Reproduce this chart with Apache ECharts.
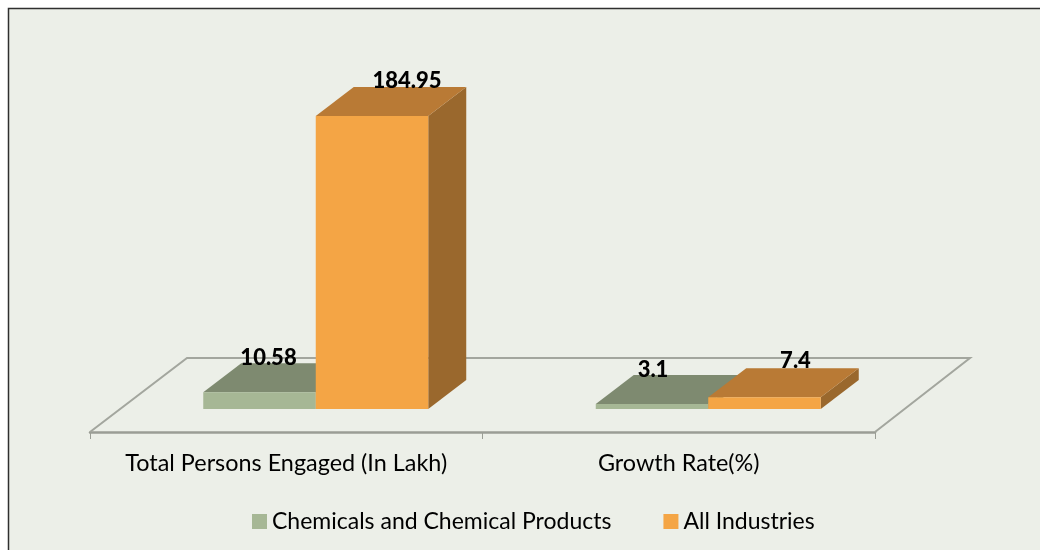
<!DOCTYPE html>
<html>
<head>
<meta charset="utf-8">
<title>Persons Engaged</title>
<style>
  html, body { margin: 0; padding: 0; background: #fff; }
  #chart { width: 1040px; height: 550px; }
</style>
<script src="https://cdn.jsdelivr.net/npm/echarts@6/dist/echarts.min.js"></script>
</head>
<body>
<div id="chart"></div>
<script>
var categories = ['Total Persons Engaged (In Lakh)', 'Growth Rate(%)'];
var chemicals = [10.58, 3.1];
var allIndustries = [184.95, 7.4];

// label nudges from the middle of the bar's top face, excel placed them unevenly
var chemLabelNudge = [[-10, -20], [-18, -20]];
var allLabelNudge = [[16, -21], [12, -22]];

var FONT = 'Lato';
var DEPTH_X = 38, DEPTH_Y = 29;   // bar depth
var BAR_RATIO = 0.2866;           // one bar, share of the category band
var BAR_SHIFT = 29.5;             // bars stand in the middle of the floor
var FLOOR_DROP = 23;              // floor front edge below the bars

function shade(x1, y1, x2, y2, x3, y3, x4, y4, fill) {
  return {
    type: 'polygon',
    shape: { points: [[x1, y1], [x2, y2], [x3, y3], [x4, y4]] },
    style: { fill: fill }
  };
}

// side: -1 left bar of the pair, 0 right bar
function barRenderer(side, colors, nudges) {
  return function (params, api) {
    var i = api.value(0);
    var top = api.coord([i, api.value(1)]);
    var base = api.coord([i, 0]);
    var w = api.size([1, 0])[0] * BAR_RATIO;
    var x0 = top[0] + BAR_SHIFT + side * w;
    var x1 = x0 + w;
    return {
      type: 'group',
      children: [
        shade(x1, base[1], x1 + DEPTH_X, base[1] - DEPTH_Y, x1 + DEPTH_X, top[1] - DEPTH_Y, x1, top[1], colors.side),
        shade(x0, top[1], x1, top[1], x1 + DEPTH_X, top[1] - DEPTH_Y, x0 + DEPTH_X, top[1] - DEPTH_Y, colors.top),
        shade(x0, base[1], x1, base[1], x1, top[1], x0, top[1], colors.front),
        {
          type: 'text',
          z2: 10,
          style: {
            x: x0 + w / 2 + DEPTH_X / 2 + nudges[i][0],
            y: top[1] - DEPTH_Y / 2 + nudges[i][1],
            text: String(api.value(1)),
            font: '900 22px ' + FONT,
            fill: '#000',
            align: 'center',
            verticalAlign: 'middle'
          }
        }
      ]
    };
  };
}

function floorRenderer(params) {
  var g = params.coordSys;
  var frontY = g.y + g.height + FLOOR_DROP;
  var backY = frontY - 74;
  return {
    type: 'polyline',
    shape: { points: [[g.x, frontY], [g.x + 97, backY], [g.x + g.width + 95, backY], [g.x + g.width, frontY]] },
    style: { fill: 'none', stroke: '#a3a69e', lineWidth: 2 }
  };
}

function seriesData(values) {
  return values.map(function (v, i) { return [i, v]; });
}

var chart = echarts.init(document.getElementById('chart'));
chart.setOption({
  animation: false,
  graphic: [{
    type: 'rect',
    z: -10,
    shape: { x: 8.5, y: 8.5, width: 1040, height: 550 },
    style: { fill: '#ecefe8', stroke: '#2f2f2f', lineWidth: 1.5 }
  }],
  grid: { left: 90, width: 785, top: 116, bottom: 141 },
  legend: {
    left: 252,
    top: 510,
    padding: 0,
    itemWidth: 15,
    itemHeight: 15,
    itemGap: 52,
    icon: 'rect',
    textStyle: { fontFamily: FONT, fontSize: 23, color: '#000' },
    data: ['Chemicals and Chemical Products', 'All Industries']
  },
  xAxis: {
    type: 'category',
    data: categories,
    offset: FLOOR_DROP,
    axisLine: { onZero: false, lineStyle: { color: '#9a9d95', width: 2.5 } },
    axisTick: { show: true, length: 7, lineStyle: { color: '#9a9d95', width: 1 } },
    axisLabel: { interval: 0, margin: 20, fontFamily: FONT, fontSize: 23.4, color: '#000' }
  },
  yAxis: {
    type: 'value',
    min: 0,
    max: 184.95,
    show: false,
    splitLine: { show: false }
  },
  series: [
    {
      type: 'custom',
      silent: true,
      z: 1,
      data: [[0, 0]],
      renderItem: floorRenderer,
      clip: false
    },
    {
      name: 'Chemicals and Chemical Products',
      type: 'custom',
      z: 2,
      clip: false,
      itemStyle: { color: '#a6b795' },
      encode: { x: 0, y: 1 },
      data: seriesData(chemicals),
      renderItem: barRenderer(-1, { front: '#a6b795', top: '#7e8a70', side: '#6f7a62' }, chemLabelNudge)
    },
    {
      name: 'All Industries',
      type: 'custom',
      z: 3,
      clip: false,
      itemStyle: { color: '#f4a545' },
      encode: { x: 0, y: 1 },
      data: seriesData(allIndustries),
      renderItem: barRenderer(0, { front: '#f4a545', top: '#b97a35', side: '#9a682d' }, allLabelNudge)
    }
  ]
});
</script>
</body>
</html>
